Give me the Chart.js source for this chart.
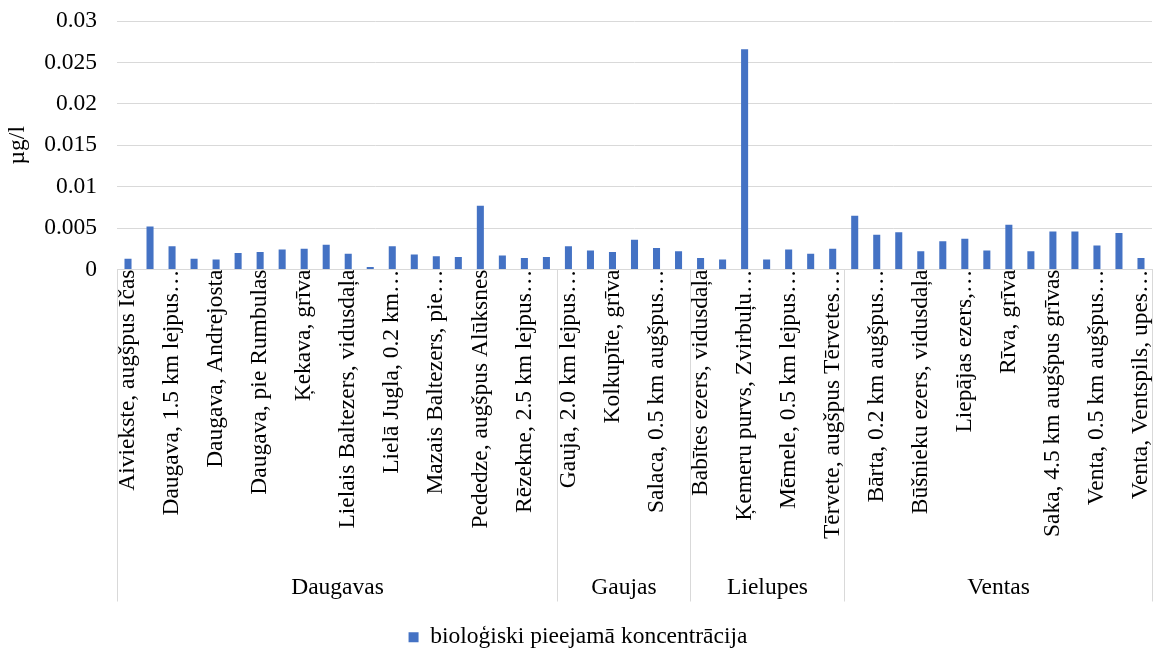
<!DOCTYPE html>
<html>
<head>
<meta charset="utf-8">
<script src="https://cdn.jsdelivr.net/npm/chart.js@4"></script>
<style>
  html, body { margin: 0; padding: 0; background: #fff; }
  #wrap { width: 1156px; height: 651px; }
</style>
</head>
<body>
<div id="wrap"><canvas id="chart"></canvas></div>
<script>
// station names (every other one is hidden on the axis, as in the original)
const stations = [
  "Aiviekste, augšpus Ičas", "Daugava, 0.5 km augšpus…", "Daugava, 1.5 km lejpus…",
  "Daugava, 2 km lejpus…", "Daugava, Andrejosta", "Daugava, Jaunjelgava",
  "Daugava, pie Rumbulas", "Dubna, grīva", "Ķekava, grīva",
  "Lielais Baltezers, dienviddaļa", "Lielais Baltezers, vidusdaļa", "Lielais Baltezers, ziemeļdaļa",
  "Lielā Jugla, 0.2 km…", "Mazā Jugla, grīva", "Mazais Baltezers, pie…",
  "Ogre, grīva", "Pededze, augšpus Alūksnes", "Pērse, grīva",
  "Rēzekne, 2.5 km lejpus…", "Rušonu ezers, vidusdaļa",
  "Gauja, 2.0 km lejpus…", "Gauja, pie Valmieras", "Kolkupīte, grīva",
  "Rūja, grīva", "Salaca, 0.5 km augšpus…", "Svētupe, grīva",
  "Babītes ezers, vidusdaļa", "Iecava, grīva", "Ķemeru purvs, Zvirbuļu…",
  "Lielupe, Kalnciems", "Mēmele, 0.5 km lejpus…", "Mūsa, grīva",
  "Tērvete, augšpus Tērvetes…",
  "Abava, grīva", "Bārta, 0.2 km augšpus…", "Bērzupe, grīva",
  "Būšnieku ezers, vidusdaļa", "Irbe, grīva", "Liepājas ezers,…",
  "Pape, grīva", "Rīva, grīva", "Roja, grīva",
  "Saka, 4.5 km augšpus grīvas", "Užava, grīva", "Venta, 0.5 km augšpus…",
  "Venta, pie Kuldīgas", "Venta, Ventspils, upes…"
];

const concentration = [
  0.0013, 0.0052, 0.0028, 0.0013, 0.0012, 0.0020, 0.0021, 0.0024, 0.0025, 0.0030,
  0.0019, 0.0003, 0.0028, 0.0018, 0.0016, 0.0015, 0.0077, 0.0017, 0.0014, 0.0015,
  0.0028, 0.0023, 0.0021, 0.0036, 0.0026, 0.0022,
  0.0014, 0.0012, 0.0266, 0.0012, 0.0024, 0.0019, 0.0025,
  0.0065, 0.0042, 0.0045, 0.0022, 0.0034, 0.0037, 0.0023, 0.0054, 0.0022, 0.0046,
  0.0046, 0.0029, 0.0044, 0.0014
];

// river basins and how many stations each has
const basins = ["Daugavas", "Gaujas", "Lielupes", "Ventas"];
const basinSizes = [20, 6, 7, 14];

const FONT = "'Liberation Serif', 'Times New Roman', serif";
const FS = 23.5;
const AXIS_H = 355;   // category axis incl. room above the legend
const BOX_H = 332;    // height of the two-level label box

// draws the second level of the category axis (basin names + separators)
const basinAxis = {
  id: "basinAxis",
  afterDraw(chart) {
    const { ctx, scales: { x } } = chart;
    const top = x.top;
    const bottom = x.top + BOX_H;
    ctx.save();
    ctx.strokeStyle = "#d9d9d9";
    ctx.lineWidth = 1;
    ctx.fillStyle = "#000";
    ctx.font = `${FS}px ${FONT}`;
    ctx.textAlign = "center";
    ctx.textBaseline = "middle";
    let start = 0;
    const edge = (i) => Math.round(x.getPixelForValue(i - 0.5)) + 0.5;
    ctx.beginPath();
    ctx.moveTo(edge(0), top);
    ctx.lineTo(edge(0), bottom);
    ctx.stroke();
    basins.forEach((name, k) => {
      const end = start + basinSizes[k];
      const x0 = edge(start);
      const x1 = edge(end);
      ctx.beginPath();
      ctx.moveTo(x1, top);
      ctx.lineTo(x1, bottom);
      ctx.stroke();
      ctx.fillText(name, (x0 + x1) / 2, bottom - 14);
      start = end;
    });
    ctx.restore();
  },
};

const ctx = document.getElementById("chart").getContext("2d");
new Chart(ctx, {
  type: "bar",
  data: {
    labels: stations,
    datasets: [
      {
        label: "bioloģiski pieejamā koncentrācija",
        data: concentration,
        backgroundColor: "#4472C4",
        borderWidth: 0,
        barPercentage: 0.32,
        categoryPercentage: 1,
      },
    ],
  },
  options: {
    responsive: true,
    maintainAspectRatio: false,
    animation: false,
    layout: { padding: { top: 21, right: 4, left: 4, bottom: -8 } },
    scales: {
      x: {
        grid: { display: false, drawTicks: false },
        border: { display: true, color: "#d9d9d9" },
        ticks: {
          autoSkip: false,
          minRotation: 90,
          maxRotation: 90,
          padding: 0,
          color: "#000",
          font: { family: FONT, size: FS },
          callback: (v, i) => (i % 2 === 0 ? stations[i] : ""),
        },
        afterFit: (scale) => {
          scale.height = AXIS_H;
          scale.paddingLeft = 0;
          scale.paddingRight = 0;
        },
      },
      y: {
        min: 0,
        max: 0.03,
        grid: { color: "#d9d9d9", drawTicks: false },
        border: { display: false },
        ticks: {
          stepSize: 0.005,
          padding: 20,
          color: "#000",
          font: { family: FONT, size: FS },
          callback: (v) => String(+v.toFixed(3)),
        },
        title: {
          display: true,
          text: "µg/l",
          color: "#000",
          font: { family: FONT, size: FS },
          padding: 0,
        },
        afterFit: (scale) => {
          scale.width = 113;
          scale.paddingTop = 0;
          scale.paddingBottom = 0;
        },
      },
    },
    plugins: {
      legend: {
        position: "bottom",
        labels: {
          boxWidth: 10,
          boxHeight: 10,
          color: "#000",
          font: { family: FONT, size: FS },
          padding: 1,
        },
      },
      tooltip: { enabled: false },
    },
  },
  plugins: [basinAxis],
});
</script>
</body>
</html>
